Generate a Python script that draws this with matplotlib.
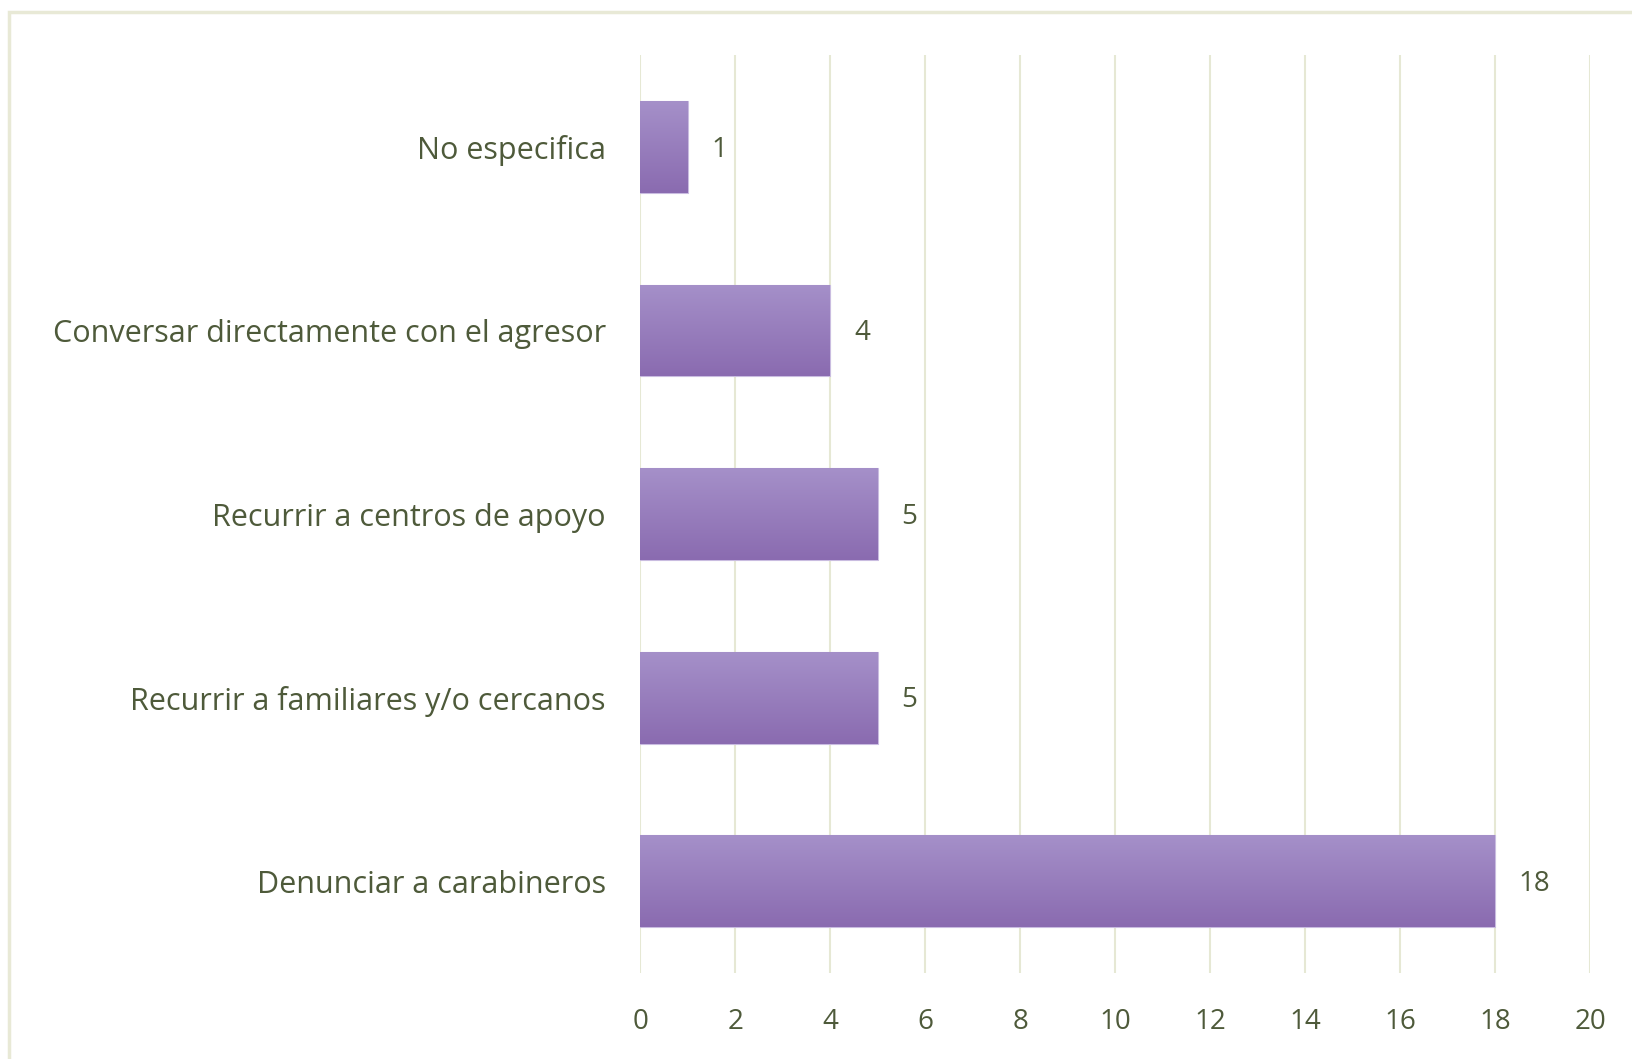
import numpy as np
import matplotlib.pyplot as plt
from matplotlib.patches import Rectangle
from matplotlib.colors import LinearSegmentedColormap

categorias = ["Denunciar a carabineros",
              "Recurrir a familiares y/o cercanos",
              "Recurrir a centros de apoyo",
              "Conversar directamente con el agresor",
              "No especifica"]
valores = [18, 5, 5, 4, 1]
ticks_x = [0, 2, 4, 6, 8, 10, 12, 14, 16, 18, 20]

texto = "#4e5a3a"
grid = "#e6e8d4"

plt.rcParams['font.family'] = ['Open Sans', 'DejaVu Sans']

fig = plt.figure(figsize=(16.33, 10.59), dpi=100)
fig.patches.append(Rectangle((9 / 1633, -0.01), 1.1, 1 - 12 / 1059 + 0.01,
                             transform=fig.transFigure, fill=False,
                             edgecolor="#e8e9d6", linewidth=2.5))
ax = fig.add_axes([0.3922, 0.0812, 0.5815, 0.8668])

y = np.arange(len(categorias))
bars = ax.barh(y, valores, height=0.5, color="#9a80c0", edgecolor="#c9bce0",
               linewidth=0.8, zorder=2)

# degradado vertical dentro de cada barra
grad = np.linspace(0, 1, 256).reshape(-1, 1)
cmap = LinearSegmentedColormap.from_list("morado", ["#a590c9", "#8a6bb0"])
for b in bars:
    x0, y0 = b.get_x(), b.get_y()
    w, h = b.get_width(), b.get_height()
    im = ax.imshow(grad, cmap=cmap, aspect='auto', extent=(x0, x0 + w, y0, y0 + h),
                   origin='upper', zorder=2.5)
    im.set_clip_path(b)

for yi, v in zip(y, valores):
    ax.annotate(str(v), (v, yi), xytext=(17, -2), textcoords='offset points',
                ha='left', va='center', fontsize=20, color=texto)

ax.set_xlim(0, 20)
ax.set_ylim(-0.5, len(categorias) - 0.5)
ax.set_xticks(ticks_x)
ax.set_yticks(y)
ax.set_yticklabels(categorias)
ax.xaxis.grid(True, color=grid, linewidth=1.5, zorder=0)
ax.set_axisbelow(True)
for s in ax.spines.values():
    s.set_visible(False)
ax.tick_params(axis='y', length=0, pad=25, labelsize=22, labelcolor=texto)
ax.tick_params(axis='x', length=0, pad=25, labelsize=20, labelcolor=texto)

fig.savefig("out.png", dpi=100)
